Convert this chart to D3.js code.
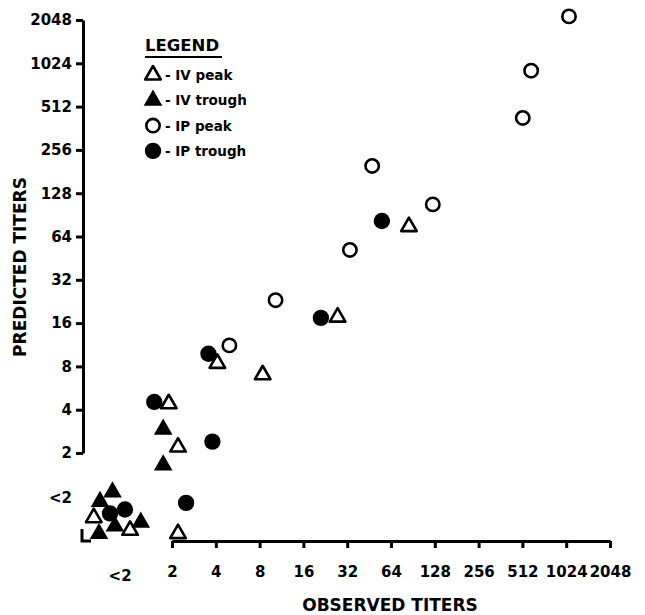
<!DOCTYPE html>
<html>
<head>
<meta charset="utf-8">
<script src="https://cdnjs.cloudflare.com/ajax/libs/d3/7.8.5/d3.min.js"></script>
<style>
	body { margin: 0; background: #fff; }
	text { font-family: 'DejaVu Sans', sans-serif; font-weight: bold; fill: #000; }
</style>
</head>
<body>
<div id="chart_div"></div>
<script>
// titers: [observed, predicted]; values below 2 are the "<2" group
var iv_peak = [[85, 75], [27.5, 17.6], [4.1, 8.4], [8.4, 7.0], [1.9, 4.4], [2.2, 2.2], [2.2, 0.55], [0.58, 0.71], [1.03, 0.58]];
var iv_trough = [[1.74, 2.92], [1.74, 1.65], [0.78, 1.07], [0.64, 0.92], [1.22, 0.66], [0.81, 0.62], [0.63, 0.55]];
var ip_peak = [[1070, 2170], [588, 910], [515, 427], [47.5, 198], [124, 107], [33.4, 51.6], [10.3, 23.1], [4.96, 11.2]];
var ip_trough = [[55.4, 82], [21.1, 17.4], [3.56, 9.8], [1.51, 4.53], [3.79, 2.4], [2.5, 0.9], [0.75, 0.76], [0.95, 0.81]];

var tick_values = [2, 4, 8, 16, 32, 64, 128, 256, 512, 1024, 2048];
var below_label = '<2';
var legend_labels = ['- IV peak', '- IV trough', '- IP peak', '- IP trough'];

function draw_chart() {
	var width = 645;
	var height = 615;
	var svg = d3.select('#chart_div').append('svg')
		.attr('width', width)
		.attr('height', height);

	var x = d3.scaleLog().base(2).domain([2, 2048]).range([172, 610]);
	var y = d3.scaleLog().base(2).domain([2, 2048]).range([453, 20]);
	var x_axis_y = 541;
	var y_axis_x = 83;

	svg.append('g')
		.attr('transform', 'translate(' + y_axis_x + ',0)')
		.call(d3.axisLeft(y).tickValues(tick_values).tickSize(7).tickSizeOuter(0).tickPadding(4).tickFormat(d => d));
	svg.append('g')
		.attr('transform', 'translate(0,' + x_axis_y + ')')
		.call(d3.axisBottom(x).tickValues(tick_values).tickSize(7).tickSizeOuter(0).tickPadding(18).tickFormat(d => d));

	svg.selectAll('.domain, .tick line')
		.attr('stroke', '#000')
		.attr('stroke-width', 3);
	svg.selectAll('.tick text')
		.attr('font-size', 15)
		.attr('font-family', "'DejaVu Sans', sans-serif")
		.attr('font-weight', 'bold');

	// "<2" labels and the broken corner
	svg.append('text')
		.attr('x', x(0.88))
		.attr('y', 581)
		.attr('text-anchor', 'middle')
		.attr('font-size', 15)
		.text(below_label);
	svg.append('text')
		.attr('x', 72)
		.attr('y', y(0.97) + 5)
		.attr('text-anchor', 'end')
		.attr('font-size', 15)
		.text(below_label);
	svg.append('path')
		.attr('d', 'M' + (y_axis_x - 1) + ',' + (x_axis_y - 12) + 'V' + x_axis_y + 'H' + (y_axis_x + 8))
		.attr('fill', 'none')
		.attr('stroke', '#000')
		.attr('stroke-width', 3);

	// axis titles
	svg.append('text')
		.attr('transform', 'translate(26,267) rotate(-90)')
		.attr('text-anchor', 'middle')
		.attr('font-size', 17)
		.text('PREDICTED TITERS');
	svg.append('text')
		.attr('x', 390)
		.attr('y', 611)
		.attr('text-anchor', 'middle')
		.attr('font-size', 17)
		.text('OBSERVED TITERS');

	var series = [
		{ data: iv_peak, type: 'triangle', filled: false },
		{ data: iv_trough, type: 'triangle', filled: true },
		{ data: ip_peak, type: 'circle', filled: false },
		{ data: ip_trough, type: 'circle', filled: true },
	];

	for (s in series) {
		svg.append('g')
			.selectAll('path')
			.data(series[s].data)
			.enter()
			.append('path')
			.attr('transform', d => 'translate(' + x(d[0]) + ',' + y(d[1]) + ')')
			.call(draw_marker, series[s]);
	}

	// legend
	var legend = svg.append('g').attr('transform', 'translate(145,0)');
	legend.append('text')
		.attr('x', 0)
		.attr('y', 51)
		.attr('font-size', 16.5)
		.text('LEGEND');
	legend.append('line')
		.attr('x1', 0)
		.attr('x2', 77)
		.attr('y1', 57)
		.attr('y2', 57)
		.attr('stroke', '#000')
		.attr('stroke-width', 2);
	var rows = legend.selectAll('.legend_row')
		.data(series)
		.enter()
		.append('g')
		.attr('class', 'legend_row')
		.attr('transform', (d, i) => 'translate(0,' + (75 + i * 25.3) + ')');
	rows.append('path')
		.attr('transform', 'translate(8,0)')
		.each(function (d) { d3.select(this).call(draw_marker, d); });
	rows.append('text')
		.attr('x', 20)
		.attr('y', 5)
		.attr('font-size', 13.5)
		.text((d, i) => legend_labels[i]);
}

function draw_marker(sel, info) {
	var size = info.type === 'triangle' ? (info.filled ? 150 : 105) : (info.filled ? 210 : 140);
	var symbol = info.type === 'triangle' ? d3.symbolTriangle : d3.symbolCircle;
	sel.attr('d', d3.symbol().type(symbol).size(size))
		.attr('fill', info.filled ? '#000' : '#fff')
		.attr('stroke', '#000')
		.attr('stroke-width', info.filled ? 0 : 2.6)
		.attr('stroke-linejoin', 'round');
}

draw_chart();
</script>
</body>
</html>
